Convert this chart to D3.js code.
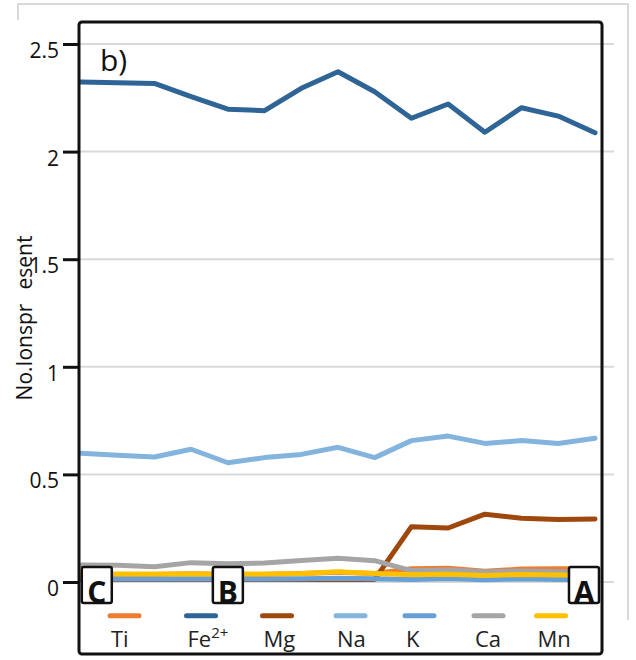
<!DOCTYPE html>
<html>
<head>
<meta charset="utf-8">
<script src="https://cdn.jsdelivr.net/npm/d3@7"></script>
<style>
  html, body { margin: 0; padding: 0; background: #ffffff; }
  svg { display: block; font-family: "Open Sans", "Noto Sans", sans-serif; }
</style>
</head>
<body>
<svg id="chart" width="636" height="660"></svg>
<script>
// ---- data ----
const points = d3.range(15); // sample positions along the profile C -> B -> A
const seriesNames = ["Ti", "Fe", "Mg", "Na", "K", "Ca", "Mn"];
const Ti = [0.035, 0.035, 0.035, 0.038, 0.035, 0.035, 0.04, 0.045, 0.04, 0.062, 0.064, 0.05, 0.06, 0.061, 0.06];
const Fe = [2.323, 2.32, 2.317, 2.255, 2.197, 2.19, 2.294, 2.371, 2.278, 2.155, 2.221, 2.09, 2.204, 2.165, 2.088];
const Mg = [0.012, 0.012, 0.012, 0.012, 0.012, 0.012, 0.012, 0.012, 0.012, 0.257, 0.251, 0.315, 0.296, 0.291, 0.293];
const Na = [0.598, 0.589, 0.581, 0.617, 0.554, 0.578, 0.593, 0.626, 0.578, 0.657, 0.678, 0.644, 0.657, 0.644, 0.668];
const K  = [0.014, 0.014, 0.014, 0.014, 0.014, 0.014, 0.015, 0.018, 0.015, 0.012, 0.016, 0.01, 0.015, 0.012, 0.012];
const Ca = [0.079, 0.078, 0.071, 0.09, 0.085, 0.088, 0.1, 0.11, 0.099, 0.053, 0.056, 0.048, 0.051, 0.048, 0.047];
const Mn = [0.037, 0.037, 0.037, 0.037, 0.037, 0.037, 0.04, 0.048, 0.04, 0.034, 0.036, 0.03, 0.035, 0.032, 0.03];
const yTicks = [0, 0.5, 1, 1.5, 2, 2.5];
const yTickLabels = ["0", "0.5", "1", "1.5", "2", "2.5"];
const panelLabel = "b)";
const markerLabels = ["C", "B", "A"];
const markerIndex = [0.43, 4, 13.7];

// ---- styles / layout ----
const colors = {Ti: "#ed7d31", Fe: "#2e6496", Mg: "#9e480e", Na: "#83b4de", K: "#67a0d6", Ca: "#a5a5a5", Mn: "#ffc000"};
const values = {Ti, Fe, Mg, Na, K, Ca, Mn};
const legendLeft = [110, 186.5, 262.5, 336, 405, 474, 536.5];

const svg = d3.select("#chart");
const x = d3.scaleLinear().domain([0, 14]).range([81, 595]);
const y = d3.scaleLinear().domain([0, 2.5]).range([582, 44]);

// outer faint frame
svg.append("path")
  .attr("d", "M18,20 L18,4 L628,4 L628,620")
  .attr("fill", "none").attr("stroke", "#d9d9d9").attr("stroke-width", 2);

// gridlines
svg.append("g").selectAll("line").data(yTicks).join("line")
  .attr("x1", 79).attr("x2", 614)
  .attr("y1", d => y(d)).attr("y2", d => y(d))
  .attr("stroke", "#d9d9d9").attr("stroke-width", 2);

// y axis
const yAxis = d3.axisLeft(y).tickValues(yTicks)
  .tickFormat((d, i) => yTickLabels[i]).tickSize(16).tickPadding(4);
const gy = svg.append("g").attr("transform", "translate(79,0)").call(yAxis);
gy.select(".domain").remove();
gy.selectAll(".tick line").attr("stroke", "#111").attr("stroke-width", 3);
gy.selectAll(".tick text")
  .attr("font-family", "'Open Sans', sans-serif")
  .attr("font-size", 21).attr("fill", "#111")
  .attr("dy", null).attr("y", 13.5);

// series lines
const line = d3.line().x((d, i) => x(points[i])).y(d => y(d));
svg.append("g").selectAll("path").data(seriesNames).join("path")
  .attr("d", n => line(values[n]))
  .attr("fill", "none")
  .attr("stroke", n => colors[n])
  .attr("stroke-width", 5)
  .attr("stroke-linejoin", "round")
  .attr("stroke-linecap", "round");

// marker boxes C, B, A
const mk = svg.append("g").selectAll("g").data(markerLabels).join("g")
  .attr("transform", (d, i) => `translate(${x(markerIndex[i])},0)`);
mk.append("rect")
  .attr("x", -15).attr("y", 567).attr("width", 30).attr("height", 36).attr("rx", 2)
  .attr("fill", "#fff").attr("stroke", "#111").attr("stroke-width", 2.5);
mk.append("text")
  .attr("x", 0).attr("y", 603).attr("text-anchor", "middle")
  .attr("font-family", "'Liberation Sans Narrow', 'Open Sans', sans-serif")
  .attr("font-size", 30).attr("font-weight", "bold").attr("fill", "#111")
  .text(d => d);

// plot frame
svg.append("rect")
  .attr("x", 79).attr("y", 22).attr("width", 523).attr("height", 632).attr("rx", 3)
  .attr("fill", "none").attr("stroke", "#111").attr("stroke-width", 3);

// panel label
svg.append("text").attr("x", 100).attr("y", 71)
  .attr("font-size", 30).attr("fill", "#111").text(panelLabel);

// y title
svg.append("text")
  .attr("transform", "translate(32,318) rotate(-90)")
  .attr("text-anchor", "middle").attr("font-size", 21).attr("fill", "#111")
  .call(t => {
    t.append("tspan").text("No.Ionspr");
    t.append("tspan").attr("dx", 14).text("esent");
  });

// legend
const lg = svg.append("g").selectAll("g").data(seriesNames).join("g")
  .attr("transform", (d, i) => `translate(${legendLeft[i]},0)`);
lg.append("line")
  .attr("x1", 0).attr("x2", 29).attr("y1", 615.7).attr("y2", 615.7)
  .attr("stroke", d => colors[d]).attr("stroke-width", 5).attr("stroke-linecap", "round");
lg.append("text")
  .attr("x", 1).attr("y", 647).attr("font-size", 22).attr("fill", "#222")
  .each(function(d) {
    const t = d3.select(this);
    if (d === "Fe") {
      t.append("tspan").text("Fe");
      t.append("tspan").attr("font-size", 15).attr("dy", -9).text("2+");
    } else {
      t.text(d);
    }
  });
</script>
</body>
</html>
